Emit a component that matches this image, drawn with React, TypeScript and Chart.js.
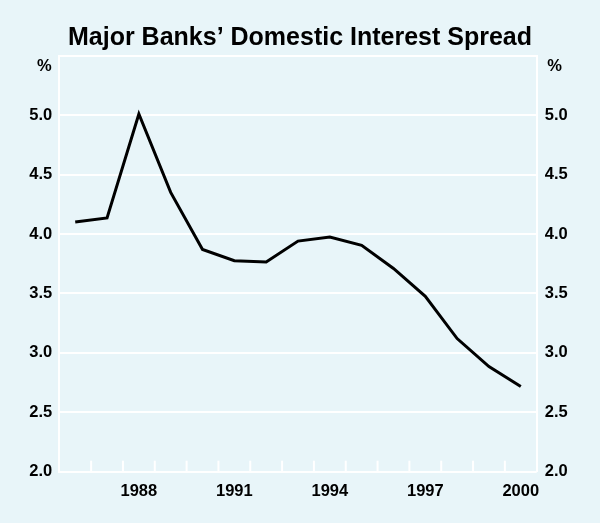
import React, { useEffect, useRef } from 'react';
import { Chart, registerables } from 'chart.js';

Chart.register(...registerables);

const years = ['1986', '1987', '1988', '1989', '1990', '1991', '1992', '1993', '1994', '1995', '1996', '1997', '1998', '1999', '2000'];
const spread = [4.1, 4.135, 5.01, 4.35, 3.87, 3.775, 3.765, 3.94, 3.975, 3.905, 3.71, 3.475, 3.12, 2.885, 2.716];
const labeledYears = ['1988', '1991', '1994', '1997', '2000'];
const yMin = 2.0;
const yMax = 5.5;
const yStep = 0.5;
const titleText = 'Major Banks\u2019 Domestic Interest Spread';
const unitLabel = '%';

const BG = '#e8f5f9';
const FONT = '"Liberation Sans", Arial, Helvetica, sans-serif';
const LABEL_SIZE = 16.5;

const innerTicks = {
  id: 'innerTicks',
  beforeDatasetsDraw(chart: any) {
    const { ctx, chartArea, scales } = chart;
    const x = scales.x;
    ctx.save();
    ctx.strokeStyle = '#ffffff';
    ctx.lineWidth = 2;
    for (let i = 1; i < years.length; i++) {
      const px = (x.getPixelForValue(i - 1) + x.getPixelForValue(i)) / 2;
      ctx.beginPath();
      ctx.moveTo(px, chartArea.bottom);
      ctx.lineTo(px, chartArea.bottom - 11);
      ctx.stroke();
    }
    ctx.restore();
  },
  afterDraw(chart: any) {
    const { ctx, chartArea, scales } = chart;
    ctx.save();
    ctx.fillStyle = '#000';
    ctx.font = `bold ${LABEL_SIZE}px ${FONT}`;
    ctx.textAlign = 'center';
    ctx.textBaseline = 'middle';
    const yL = scales.y;
    const yR = scales.y2;
    ctx.fillText(unitLabel, yL.right - 15, chartArea.top + 11);
    ctx.fillText(unitLabel, yR.left + 18, chartArea.top + 11);
    ctx.restore();
  },
};

export default function App() {
  const ref = useRef<HTMLCanvasElement | null>(null);

  useEffect(() => {
    document.body.style.margin = '0';
    document.body.style.background = BG;
    const canvas = ref.current;
    if (!canvas) return;
    const tickFmt = (v: any) => (Number(v) >= yMax - 1e-9 ? '' : Number(v).toFixed(1));
    const labelFont = { family: FONT, size: LABEL_SIZE, weight: 'bold' as const };
    const chart = new Chart(canvas, {
      type: 'line',
      data: {
        labels: years,
        datasets: [
          {
            data: spread,
            borderColor: '#000000',
            borderWidth: 3,
            pointRadius: 0,
            tension: 0,
            fill: false,
            yAxisID: 'y',
          },
        ],
      },
      options: {
        responsive: false,
        animation: false,
        maintainAspectRatio: false,
        layout: { padding: 0 },
        plugins: {
          legend: { display: false },
          tooltip: { enabled: false },
          title: {
            display: true,
            text: titleText,
            color: '#000',
            font: { family: FONT, size: 25, weight: 'bold', lineHeight: 1.2 },
            padding: { top: 23, bottom: 2.7 },
          },
        },
        scales: {
          x: {
            type: 'category',
            offset: true,
            grid: { display: false, drawTicks: false, offset: true },
            border: { display: false },
            ticks: {
              autoSkip: false,
              maxRotation: 0,
              padding: 10,
              color: '#000',
              font: labelFont,
              callback: function (this: any, val: any, idx: number) {
                const lab = years[idx];
                return labeledYears.includes(lab) ? lab : '';
              },
            },
            afterFit: (s: any) => {
              s.height = 51.3;
            },
          },
          y: {
            position: 'left',
            min: yMin,
            max: yMax,
            grid: { color: '#ffffff', lineWidth: 2, drawTicks: false },
            border: { display: true, color: '#ffffff', width: 2 },
            ticks: {
              stepSize: yStep,
              padding: 7,
              color: '#000',
              font: labelFont,
              callback: tickFmt,
            },
            afterFit: (s: any) => {
              s.width = 59.3;
            },
          },
          y2: {
            position: 'right',
            min: yMin,
            max: yMax,
            grid: { drawOnChartArea: false, drawTicks: false },
            border: { display: true, color: '#ffffff', width: 2 },
            ticks: {
              stepSize: yStep,
              padding: 8,
              color: '#000',
              font: labelFont,
              callback: tickFmt,
            },
            afterFit: (s: any) => {
              s.width = 63.3;
            },
          },
        },
      },
      plugins: [innerTicks],
    });
    return () => chart.destroy();
  }, []);

  return (
    <div style={{ position: 'absolute', left: 0, top: 0, width: 600, height: 523, background: BG }}>
      <canvas ref={ref} width={600} height={523} style={{ display: 'block', width: 600, height: 523 }} />
    </div>
  );
}
